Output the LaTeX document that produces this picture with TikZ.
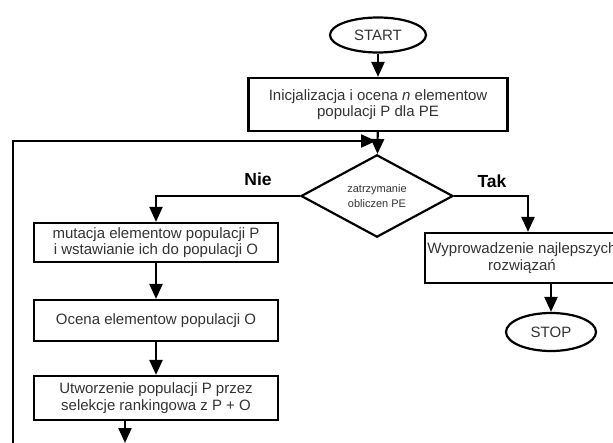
\documentclass[tikz,border=0pt]{standalone}
\usepackage{fontspec}
\setmainfont{Liberation Sans}
\usetikzlibrary{arrows.meta,shapes.geometric}

\begin{document}
\begin{tikzpicture}[x=1pt,y=-1pt]
        \useasboundingbox (0,0) rectangle (613,443);
        \clip (0,0) rectangle (613,443);

        \begin{scope}[every node/.style={rectangle,line width=2.2pt,draw,align=center,inner sep=0pt,
            text=black!80,font=\fontsize{15}{16.5}\selectfont}]
            \node[ellipse,minimum width=96pt,minimum height=35pt] (start) at (378,35) {START};
            \node[minimum width=259pt,minimum height=53pt] (init) at (378,104.5) {Inicjalizacja i ocena \textit{n} elementow\\populacji P dla PE};
            \node[diamond,minimum width=152pt,minimum height=63pt,font=\fontsize{11}{15}\selectfont] (dec) at (377,196) {zatrzymanie\\obliczen PE};
            \node[minimum width=244pt,minimum height=39pt] (mut) at (156,242.5) {mutacja elementow populacji P\\i wstawianie ich do populacji O};
            \node[minimum width=244pt,minimum height=41pt] (oce) at (156,320.5) {Ocena elementow populacji O};
            \node[minimum width=244pt,minimum height=44pt] (utw) at (156,398) {Utworzenie populacji P przez\\selekcje rankingowa z P + O};
            \node[minimum width=194pt,minimum height=50pt] (wyp) at (522,258) {Wyprowadzenie najlepszych\\rozwiązań};
            \node[ellipse,minimum width=90pt,minimum height=38pt] (stop) at (551,332) {STOP};
        \end{scope}

        \node[font=\bfseries\fontsize{17.5}{20}\selectfont] (nie) at (258,179) {Nie};
        \node[font=\bfseries\fontsize{17.5}{20}\selectfont] (tak) at (492,181) {Tak};

        \coordinate (lb) at (13,443);
        \coordinate (lt) at (13,141);
        \coordinate (lj) at (376,141);
        \coordinate (tk) at (528,0);
        \coordinate (out) at (125,443);

        \begin{scope}[>={Triangle[length=15pt,width=13pt]}, line width=2.2pt]
            \draw [->] (start) -- (init);
            \draw [->] (init) -- (dec);
            \draw [->] (lb) -- (lt) -- (lj);
            \draw [->] (dec.west) -| (mut);
            \draw [->] (dec.east) -| (tk |- wyp.north);
            \draw [->] (mut) -- (oce);
            \draw [->] (oce) -- (utw);
            \draw [->] (utw.south -| out) -- (out);
            \draw [->] (wyp.south -| stop) -- (stop);
        \end{scope}
    \end{tikzpicture}
\end{document}
